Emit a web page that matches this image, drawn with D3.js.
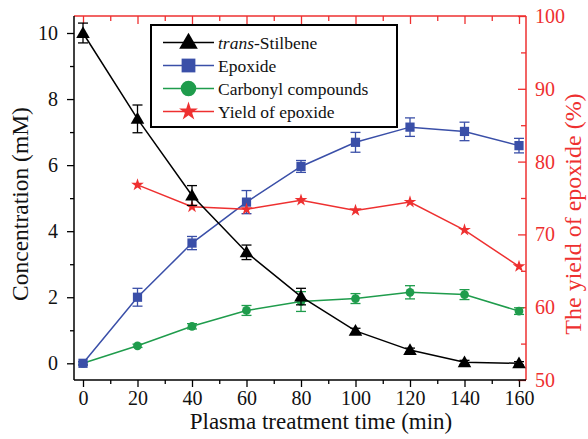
<!DOCTYPE html>
<html><head><meta charset="utf-8">
<script src="https://cdn.jsdelivr.net/npm/d3@7"></script>
<style>html,body{margin:0;padding:0;background:#fff}svg{display:block}</style>
</head><body>
<svg id="c" width="588" height="439"></svg>
<script>
const times = [0, 20, 40, 60, 80, 100, 120, 140, 160];
const stilbene = [10.0, 7.4, 5.08, 3.36, 2.02, 0.98, 0.40, 0.03, 0.0];
const stilbeneErr = [0.3, 0.42, 0.3, 0.22, 0.25, 0.08, 0.06, 0.06, 0.05];
const epoxide = [0.0, 2.0, 3.64, 4.88, 5.96, 6.69, 7.15, 7.02, 6.59];
const epoxideErr = [0.05, 0.27, 0.2, 0.35, 0.18, 0.3, 0.28, 0.28, 0.22];
const carbonyl = [0.0, 0.53, 1.12, 1.6, 1.87, 1.96, 2.15, 2.08, 1.58];
const carbonylErr = [0.05, 0.05, 0.08, 0.15, 0.3, 0.15, 0.2, 0.15, 0.1];
const yieldTimes = [20, 40, 60, 80, 100, 120, 140, 160];
const yieldVals = [76.8, 73.8, 73.45, 74.7, 73.3, 74.45, 70.6, 65.6];
const xTicks = [0, 20, 40, 60, 80, 100, 120, 140, 160];
const yLeftTicks = [0, 2, 4, 6, 8, 10];
const yRightTicks = [50, 60, 70, 80, 90, 100];
const legendLabels = ["trans-Stilbene", "Epoxide", "Carbonyl compounds", "Yield of epoxide"];

const BLACK = "#000", BLUE = "#3a4fa8", GREEN = "#1f9c4c", RED = "#ee3030";
const FONT = "'Liberation Serif','Times New Roman',serif";
const L = 74, R = 526, T = 16, B = 380;

const svg = d3.select("#c");
const x = d3.scaleLinear().domain([0, 160]).range([83, 519]);
const y = d3.scaleLinear().domain([0, 10]).range([363.3, 33]);
const y2 = d3.scaleLinear().domain([50, 100]).range([B, T]);

const gx = svg.append("g").attr("transform", `translate(0,${B})`)
  .call(d3.axisBottom(x).tickValues(xTicks).tickSize(7).tickPadding(4));
const gxm = svg.append("g").attr("transform", `translate(0,${B})`)
  .call(d3.axisBottom(x).tickValues(d3.range(10, 160, 20)).tickSize(4).tickFormat(""));
const gt = svg.append("g").attr("transform", `translate(0,${T})`)
  .call(d3.axisBottom(x).tickValues(xTicks).tickSize(8).tickFormat(""));
const gtm = svg.append("g").attr("transform", `translate(0,${T})`)
  .call(d3.axisBottom(x).tickValues(d3.range(10, 160, 20)).tickSize(5).tickFormat(""));
const gy = svg.append("g").attr("transform", `translate(${L},0)`)
  .call(d3.axisLeft(y).tickValues(yLeftTicks).tickSize(7).tickPadding(9));
const gym = svg.append("g").attr("transform", `translate(${L},0)`)
  .call(d3.axisLeft(y).tickValues([1, 3, 5, 7, 9]).tickSize(4).tickFormat(""));
const gr = svg.append("g").attr("transform", `translate(${R},0)`)
  .call(d3.axisRight(y2).tickValues(yRightTicks).tickSizeInner(-8).tickSizeOuter(0).tickPadding(7));
const grm = svg.append("g").attr("transform", `translate(${R},0)`)
  .call(d3.axisRight(y2).tickValues([55, 65, 75, 85, 95]).tickSizeInner(-5).tickSizeOuter(0).tickFormat(""));

[gx, gxm, gt, gtm, gy, gym, gr, grm].forEach(g => g.select(".domain").remove());
[gx, gxm, gy, gym].forEach(g => g.selectAll("line").attr("stroke", BLACK).attr("stroke-width", 1.3));
[gt, gtm, gr, grm].forEach(g => g.selectAll("line").attr("stroke", RED).attr("stroke-width", 1.3));
gx.selectAll("text").attr("font-family", FONT).attr("font-size", 20).attr("fill", "#111");
gy.selectAll("text").attr("font-family", FONT).attr("font-size", 20).attr("fill", "#111");
gr.selectAll("text").attr("font-family", FONT).attr("font-size", 20).attr("fill", RED);
gr.selectAll("text").attr("x", 9);

svg.append("line").attr("x1", L).attr("x2", R).attr("y1", T).attr("y2", T).attr("stroke", RED).attr("stroke-width", 1.5);
svg.append("line").attr("x1", R).attr("x2", R).attr("y1", T).attr("y2", B).attr("stroke", RED).attr("stroke-width", 1.5);
svg.append("line").attr("x1", L).attr("x2", L).attr("y1", T).attr("y2", B).attr("stroke", BLACK).attr("stroke-width", 1.5);
svg.append("line").attr("x1", L).attr("x2", R).attr("y1", B).attr("y2", B).attr("stroke", BLACK).attr("stroke-width", 1.5);

svg.append("text").attr("x", 321).attr("y", 429).attr("text-anchor", "middle")
  .attr("font-family", FONT).attr("font-size", 23).attr("fill", "#111").text("Plasma treatment time (min)");
svg.append("text").attr("transform", `translate(28,204) rotate(-90)`).attr("text-anchor", "middle")
  .attr("font-family", FONT).attr("font-size", 23.5).attr("fill", "#111").text("Concentration (mM)");
svg.append("text").attr("transform", `translate(581,214) rotate(-90)`).attr("text-anchor", "middle")
  .attr("font-family", FONT).attr("font-size", 24).attr("fill", RED).text("The yield of epoxide (%)");

const sym = {
  tri: d3.symbolTriangle, sq: d3.symbolSquare, circ: d3.symbolCircle, star: d3.symbolStar
};
function series(xs, vals, errs, color, shape, size, ys) {
  const g = svg.append("g");
  const line = d3.line().x((d, i) => x(xs[i])).y(d => ys(d));
  g.append("path").attr("d", line(vals)).attr("fill", "none").attr("stroke", color).attr("stroke-width", 1.5);
  if (errs) {
    vals.forEach((v, i) => {
      const cx = x(xs[i]), y1 = ys(v + errs[i]), y0 = ys(v - errs[i]);
      g.append("line").attr("x1", cx).attr("x2", cx).attr("y1", y1).attr("y2", y0).attr("stroke", color).attr("stroke-width", 1.3);
      [y1, y0].forEach(yy => g.append("line").attr("x1", cx - 5).attr("x2", cx + 5).attr("y1", yy).attr("y2", yy).attr("stroke", color).attr("stroke-width", 1.3));
    });
  }
  vals.forEach((v, i) => {
    g.append("path").attr("d", d3.symbol(sym[shape], size)())
      .attr("transform", `translate(${x(xs[i])},${ys(v) + (shape === "tri" ? 1 : 0)})`).attr("fill", color);
  });
}
series(times, carbonyl, carbonylErr, GREEN, "circ", 60, y);
series(times, epoxide, epoxideErr, BLUE, "sq", 85, y);
series(yieldTimes, yieldVals, null, RED, "star", 50, y2);
series(times, stilbene, stilbeneErr, BLACK, "tri", 80, y);

const lg = svg.append("g");
lg.append("rect").attr("x", 151).attr("y", 25).attr("width", 246).attr("height", 102)
  .attr("fill", "#fff").attr("stroke", "#000").attr("stroke-width", 2);
const legColors = [BLACK, BLUE, GREEN, RED];
const legShapes = ["tri", "sq", "circ", "star"];
const legSizes = [150, 190, 190, 110];
legendLabels.forEach((lab, i) => {
  const cy = 42.5 + i * 23;
  lg.append("line").attr("x1", 163).attr("x2", 214).attr("y1", cy).attr("y2", cy).attr("stroke", legColors[i]).attr("stroke-width", 1.6);
  lg.append("path").attr("d", d3.symbol(sym[legShapes[i]], legSizes[i])())
    .attr("transform", `translate(188.5,${cy + (i === 0 ? 1 : 0)})`).attr("fill", legColors[i]);
  const t = lg.append("text").attr("x", 218).attr("y", cy + 6).attr("font-family", FONT).attr("font-size", 17.5).attr("fill", "#111");
  if (i === 0) {
    t.append("tspan").attr("font-style", "italic").text("trans");
    t.append("tspan").text("-Stilbene");
  } else t.text(lab);
});
</script>
</body></html>
